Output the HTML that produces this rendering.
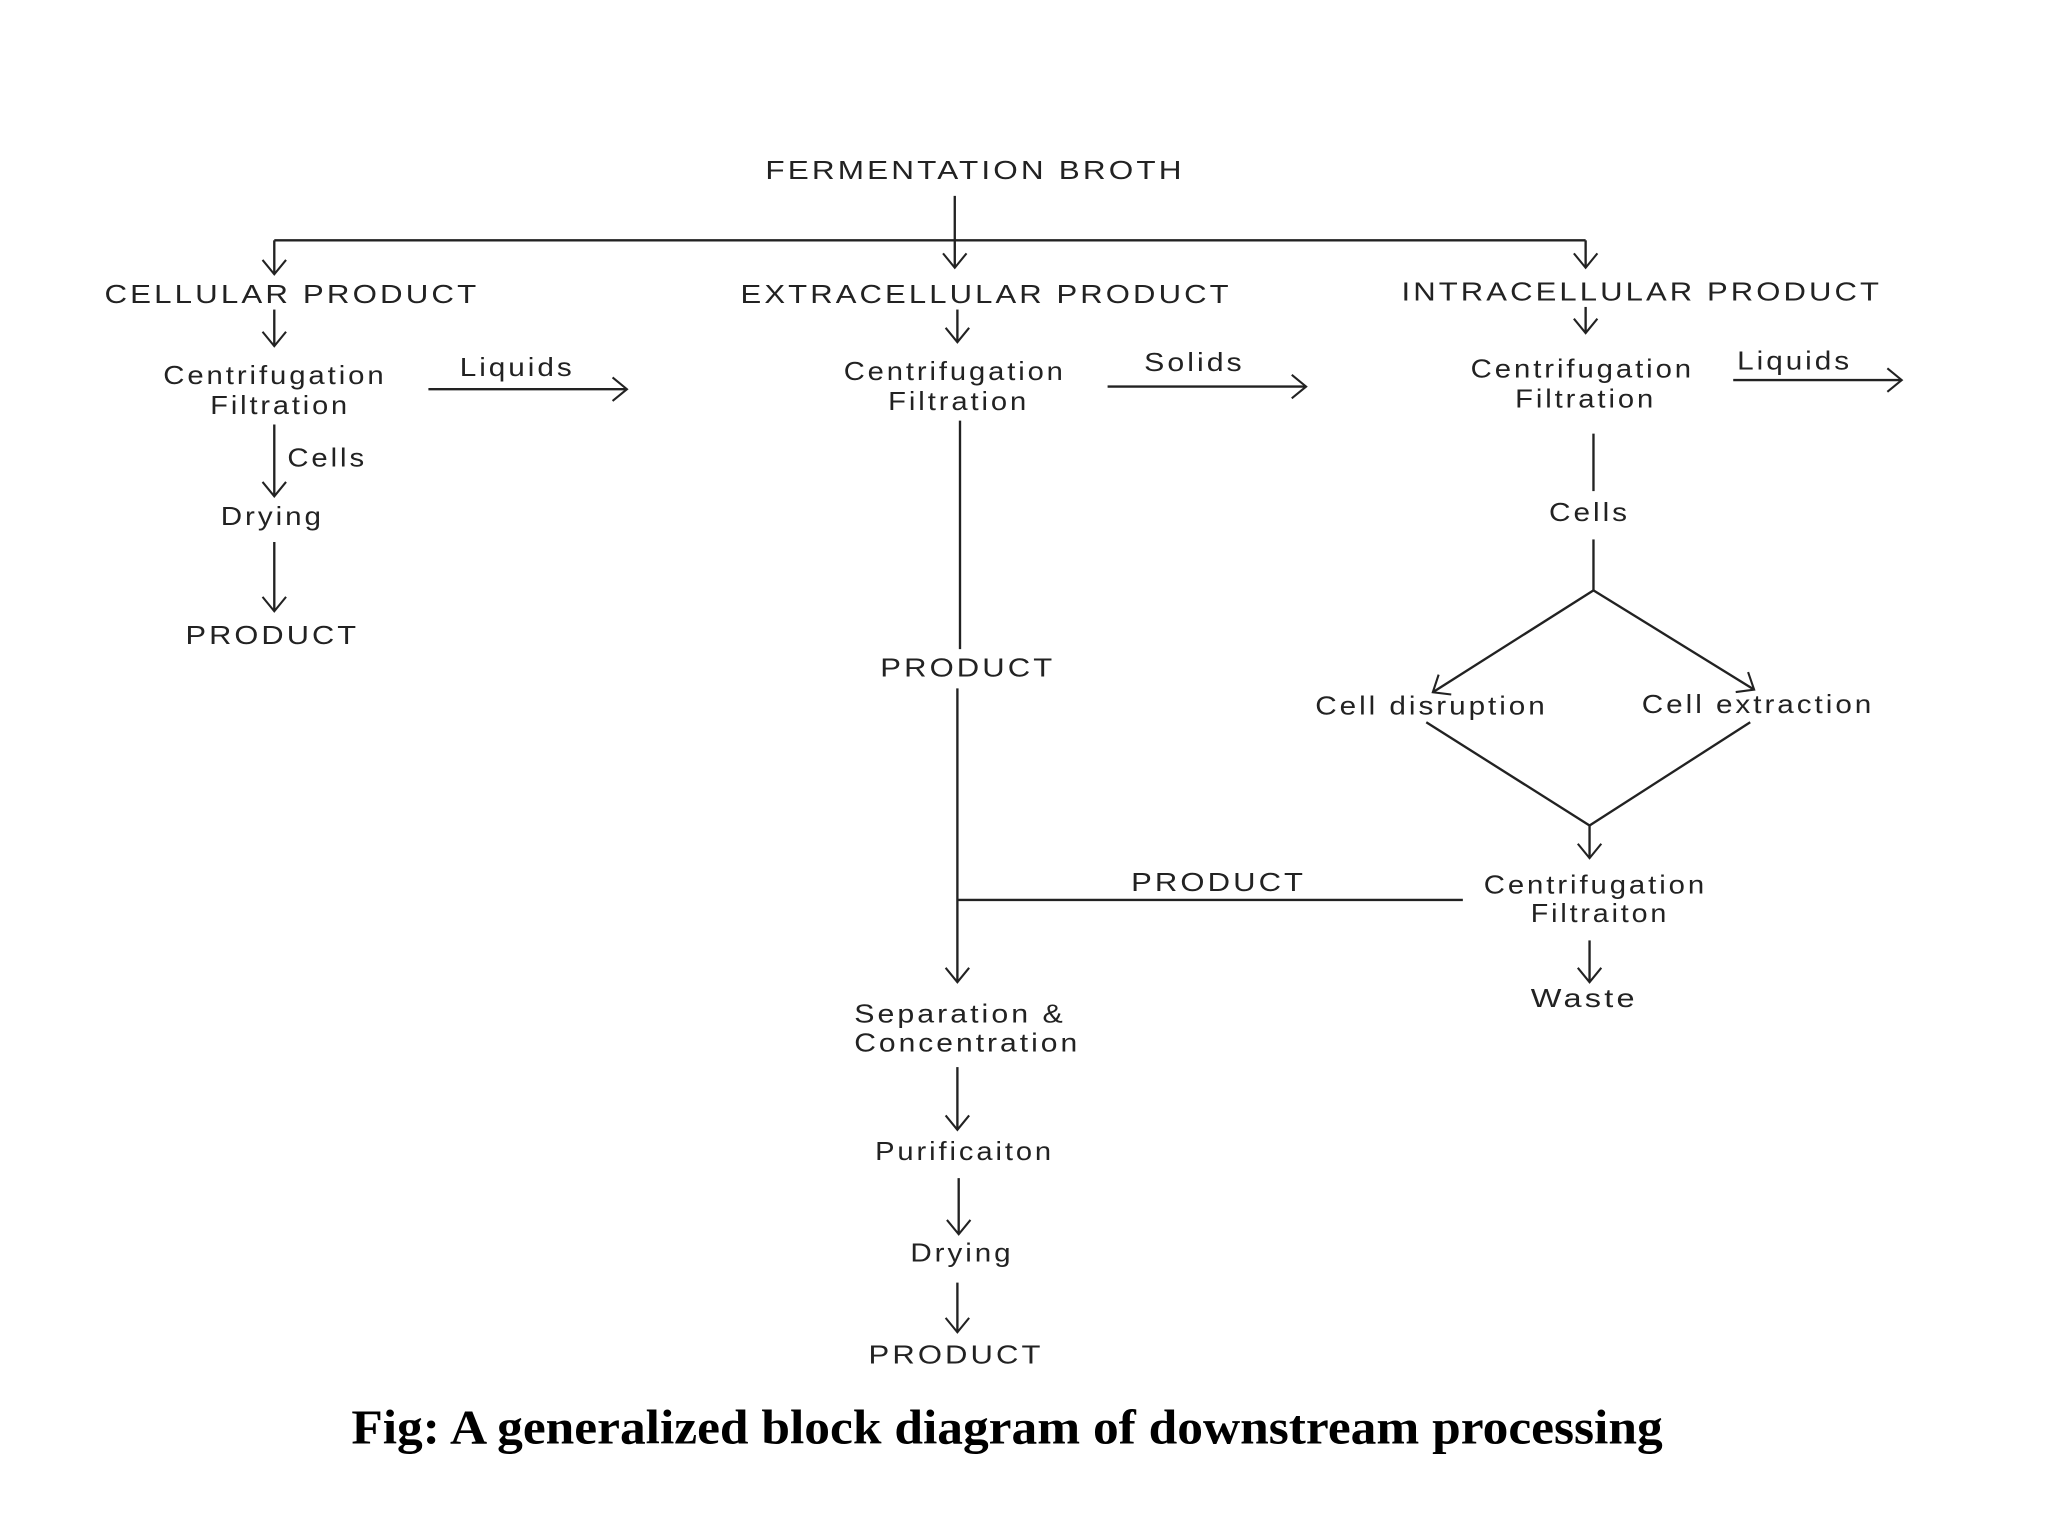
<!DOCTYPE html>
<html><head><meta charset="utf-8"><style>
html,body{margin:0;padding:0;background:#fff;}
svg{display:block;}
text{font-family:"Liberation Sans",sans-serif;font-size:20px;fill:#222;letter-spacing:2px;}
.cap{font-family:"Liberation Serif",serif;font-weight:bold;font-size:37px;fill:#000;letter-spacing:0;}
</style></head><body>
<svg width="2048" height="1536" viewBox="0 0 1568 1176" preserveAspectRatio="none" xmlns="http://www.w3.org/2000/svg">
<defs>
<marker id="a" markerWidth="24" markerHeight="24" refX="12" refY="12" orient="auto" markerUnits="userSpaceOnUse">
<polyline points="1,3 12,12 1,21" fill="none" stroke="#222" stroke-width="1.6"/>
</marker>
</defs>
<g stroke="#222" stroke-width="1.8" fill="none">
<line x1="731" y1="150" x2="731" y2="205" marker-end="url(#a)"/>
<line x1="210" y1="184" x2="1214" y2="184"/>
<line x1="210" y1="184" x2="210" y2="210" marker-end="url(#a)"/>
<line x1="1214" y1="184" x2="1214" y2="205" marker-end="url(#a)"/>
<line x1="210" y1="237" x2="210" y2="265" marker-end="url(#a)"/>
<line x1="733" y1="237" x2="733" y2="262" marker-end="url(#a)"/>
<line x1="1214" y1="235" x2="1214" y2="255" marker-end="url(#a)"/>
<line x1="328" y1="298" x2="480" y2="298" marker-end="url(#a)"/>
<line x1="848" y1="296" x2="1000" y2="296" marker-end="url(#a)"/>
<line x1="1327" y1="291" x2="1456" y2="291" marker-end="url(#a)"/>
<line x1="210" y1="325" x2="210" y2="380" marker-end="url(#a)"/>
<line x1="210" y1="415" x2="210" y2="468" marker-end="url(#a)"/>
<line x1="735" y1="322" x2="735" y2="497"/>
<line x1="733" y1="527" x2="733" y2="752" marker-end="url(#a)"/>
<line x1="733" y1="689" x2="1120" y2="689"/>
<line x1="733" y1="817" x2="733" y2="865" marker-end="url(#a)"/>
<line x1="734" y1="902" x2="734" y2="945" marker-end="url(#a)"/>
<line x1="733" y1="982" x2="733" y2="1020" marker-end="url(#a)"/>
<line x1="1220" y1="332" x2="1220" y2="376"/>
<line x1="1220" y1="413" x2="1220" y2="452"/>
<line x1="1220" y1="452" x2="1097" y2="530" marker-end="url(#a)"/>
<line x1="1220" y1="452" x2="1343" y2="528" marker-end="url(#a)"/>
<line x1="1092" y1="553" x2="1217" y2="632"/>
<line x1="1340" y1="553" x2="1217" y2="632"/>
<line x1="1217" y1="632" x2="1217" y2="657" marker-end="url(#a)"/>
<line x1="1217" y1="720" x2="1217" y2="752" marker-end="url(#a)"/>
</g>
<g>
<text x="586" y="137" textLength="321" lengthAdjust="spacingAndGlyphs">FERMENTATION BROTH</text>
<text x="80" y="232" textLength="287" lengthAdjust="spacingAndGlyphs">CELLULAR PRODUCT</text>
<text x="567" y="232" textLength="376" lengthAdjust="spacingAndGlyphs">EXTRACELLULAR PRODUCT</text>
<text x="1073" y="230" textLength="368" lengthAdjust="spacingAndGlyphs">INTRACELLULAR PRODUCT</text>
<text x="125" y="294" textLength="171" lengthAdjust="spacingAndGlyphs">Centrifugation</text>
<text x="161" y="317" textLength="107" lengthAdjust="spacingAndGlyphs">Filtration</text>
<text x="352" y="288" textLength="88" lengthAdjust="spacingAndGlyphs">Liquids</text>
<text x="646" y="291" textLength="170" lengthAdjust="spacingAndGlyphs">Centrifugation</text>
<text x="680" y="314" textLength="108" lengthAdjust="spacingAndGlyphs">Filtration</text>
<text x="876" y="284" textLength="77" lengthAdjust="spacingAndGlyphs">Solids</text>
<text x="1126" y="289" textLength="171" lengthAdjust="spacingAndGlyphs">Centrifugation</text>
<text x="1160" y="312" textLength="108" lengthAdjust="spacingAndGlyphs">Filtration</text>
<text x="1330" y="283" textLength="88" lengthAdjust="spacingAndGlyphs">Liquids</text>
<text x="220" y="357" textLength="61" lengthAdjust="spacingAndGlyphs">Cells</text>
<text x="169" y="402" textLength="79" lengthAdjust="spacingAndGlyphs">Drying</text>
<text x="142" y="493" textLength="133" lengthAdjust="spacingAndGlyphs">PRODUCT</text>
<text x="674" y="518" textLength="134" lengthAdjust="spacingAndGlyphs">PRODUCT</text>
<text x="866" y="682" textLength="134" lengthAdjust="spacingAndGlyphs">PRODUCT</text>
<text x="654" y="783" textLength="162" lengthAdjust="spacingAndGlyphs">Separation &amp;</text>
<text x="654" y="805" textLength="173" lengthAdjust="spacingAndGlyphs">Concentration</text>
<text x="670" y="888" textLength="137" lengthAdjust="spacingAndGlyphs">Purificaiton</text>
<text x="697" y="966" textLength="79" lengthAdjust="spacingAndGlyphs">Drying</text>
<text x="665" y="1044" textLength="134" lengthAdjust="spacingAndGlyphs">PRODUCT</text>
<text x="1186" y="399" textLength="62" lengthAdjust="spacingAndGlyphs">Cells</text>
<text x="1007" y="547" textLength="178" lengthAdjust="spacingAndGlyphs">Cell disruption</text>
<text x="1257" y="546" textLength="178" lengthAdjust="spacingAndGlyphs">Cell extraction</text>
<text x="1136" y="684" textLength="171" lengthAdjust="spacingAndGlyphs">Centrifugation</text>
<text x="1172" y="706" textLength="106" lengthAdjust="spacingAndGlyphs">Filtraiton</text>
<text x="1172" y="771" textLength="82" lengthAdjust="spacingAndGlyphs">Waste</text>
<text class="cap" x="269" y="1105" textLength="1004" lengthAdjust="spacingAndGlyphs">Fig: A generalized block diagram of downstream processing</text>
</g>
</svg>
</body></html>
